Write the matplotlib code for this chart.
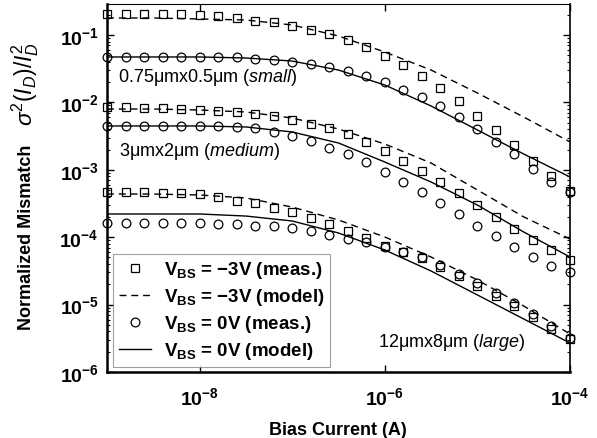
import math
import matplotlib
matplotlib.use("Agg")
import matplotlib.pyplot as plt
from matplotlib.ticker import FixedLocator, FuncFormatter, NullLocator, LogLocator
from matplotlib.lines import Line2D

plt.rcParams['font.family'] = ['Liberation Sans', 'DejaVu Sans']
plt.rcParams['mathtext.fontset'] = 'custom'
plt.rcParams['mathtext.rm'] = 'Liberation Sans'
plt.rcParams['mathtext.it'] = 'Liberation Sans:italic'
plt.rcParams['mathtext.bf'] = 'Liberation Sans:bold'

# ---------------- data ----------------
meas_current = [1e-9, 1.585e-9, 2.512e-9, 3.981e-9, 6.310e-9,
                1e-8, 1.585e-8, 2.512e-8, 3.981e-8, 6.310e-8,
                1e-7, 1.585e-7, 2.512e-7, 3.981e-7, 6.310e-7,
                1e-6, 1.585e-6, 2.512e-6, 3.981e-6, 6.310e-6,
                1e-5, 1.585e-5, 2.512e-5, 3.981e-5, 6.310e-5, 1e-4]

small_m3_meas = [0.205, 0.205, 0.205, 0.205, 0.205, 0.198, 0.191, 0.179, 0.161, 0.156,
                 0.136, 0.119, 0.104, 0.0843, 0.0664, 0.0488, 0.0359, 0.0246, 0.0164, 0.0105,
                 0.00628, 0.0039, 0.00233, 0.00135, 0.00081, 0.000485]
small_0_meas = [0.0472, 0.0472, 0.0472, 0.0472, 0.0472, 0.0472, 0.0472, 0.0472, 0.044, 0.0426,
                0.0398, 0.0371, 0.0335, 0.0292, 0.0246, 0.0201, 0.0153, 0.012, 0.00884, 0.00607,
                0.00403, 0.00259, 0.00172, 0.00103, 0.00066, 0.00047]
medium_m3_meas = [0.00855, 0.00855, 0.00826, 0.00826, 0.00798, 0.00771, 0.00746, 0.00721, 0.00673, 0.00628,
                  0.00548, 0.00478, 0.00417, 0.0034, 0.00259, 0.0019, 0.00135, 0.00096, 0.00066, 0.000453,
                  0.0003, 0.0002, 0.000132, 0.0000909, 0.0000646, 0.0000459]
medium_0_meas = [0.00447, 0.00447, 0.00447, 0.00447, 0.00447, 0.00447, 0.00447, 0.00432, 0.00417, 0.00364,
                 0.00317, 0.00268, 0.00211, 0.00172, 0.00131, 0.00093, 0.00066, 0.00047, 0.000322, 0.000221,
                 0.000147, 0.000104, 0.0000716, 0.0000508, 0.0000374, 0.0000305]
large_m3_meas = [0.000469, 0.000469, 0.000469, 0.000453, 0.000453, 0.000437, 0.000395, 0.000344, 0.000322, 0.000271,
                 0.000237, 0.000193, 0.000157, 0.000124, 0.0000973, 0.000074, 0.0000603, 0.0000491, 0.0000361, 0.0000266,
                 0.0000189, 0.0000134, 0.00000953, 0.00000655, 0.00000435, 0.00000309]
large_0_meas = [0.000162, 0.000162, 0.000162, 0.000162, 0.000162, 0.000162, 0.000157, 0.000157, 0.000147, 0.000147,
                0.000137, 0.000124, 0.000108, 0.000094, 0.0000849, 0.0000716, 0.0000603, 0.0000508, 0.0000387, 0.0000284,
                0.0000209, 0.0000149, 0.0000106, 0.00000725, 0.00000481, 0.0000032]

model_current = [1e-9, 3.162e-9, 1e-8, 3.162e-8, 1e-7, 3.162e-7, 1e-6, 3.162e-6, 1e-5, 3.162e-5, 1e-4]
small_m3_model = [0.1788, 0.1788, 0.1728, 0.167, 0.1408, 0.0966, 0.0559, 0.0302, 0.01379, 0.00607, 0.00259]
small_0_model = [0.0472, 0.0472, 0.0472, 0.0456, 0.0411, 0.0302, 0.01812, 0.00884, 0.0039, 0.001715, 0.000782]
medium_m3_model = [0.00798, 0.00798, 0.00771, 0.00721, 0.00587, 0.00403, 0.002414, 0.00126, 0.000502, 0.0002, 0.000094]
medium_0_model = [0.00447, 0.00447, 0.00447, 0.00432, 0.00364, 0.0025, 0.001305, 0.000659, 0.0003, 0.0001195, 0.0000508]
large_m3_model = [0.000437, 0.000437, 0.000423, 0.000382, 0.00028, 0.00018, 0.0001007, 0.0000508, 0.0000232, 0.00000953, 0.00000366]
large_0_model = [0.000221, 0.000221, 0.000221, 0.000206, 0.000174, 0.0001154, 0.0000646, 0.0000315, 0.0000139, 0.00000612, 0.00000269]

x_ticks = [1e-8, 1e-6, 1e-4]
y_ticks = [1e-6, 1e-5, 1e-4, 1e-3, 1e-2, 1e-1]

size_labels = [r"0.75μmx0.5μm ($\it{small}$)", r"3μmx2μm ($\it{medium}$)", r"12μmx8μm ($\it{large}$)"]
legend_labels = [r"V$_{\mathbf{BS}}$ = −3V (meas.)", r"V$_{\mathbf{BS}}$ = −3V (model)",
                 r"V$_{\mathbf{BS}}$ = 0V (meas.)", r"V$_{\mathbf{BS}}$ = 0V (model)"]
ylabel_text = "Normalized Mismatch"
ylabel_math = r"$\sigma^2(I_D)/I_D^2$"
xlabel_text = "Bias Current (A)"

# ---------------- figure ----------------
W, H = 597, 439
fig = plt.figure(figsize=(W / 100, H / 100), dpi=100)
ax = fig.add_axes([107 / W, 1 - 373 / H, 463 / W, 368 / H])
ax.set_xscale('log')
ax.set_yscale('log')

dash = (0, (5, 3.5))
lw = 1.0
for ym in [small_m3_model, medium_m3_model, large_m3_model]:
    ax.plot(model_current, ym, color='black', lw=lw, linestyle=dash)
for ym in [small_0_model, medium_0_model, large_0_model]:
    ax.plot(model_current, ym, color='black', lw=lw, linestyle='-')

mstyle = dict(linestyle='none', markerfacecolor='none', markeredgecolor='black', markeredgewidth=0.9)
sq_size, ci_size = 5.6, 6.3
for ym in [small_m3_meas, medium_m3_meas, large_m3_meas]:
    ax.plot(meas_current, ym, marker='s', markersize=sq_size, clip_on=False, zorder=3, **mstyle)
for ym in [small_0_meas, medium_0_meas, large_0_meas]:
    ax.plot(meas_current, ym, marker='o', markersize=ci_size, clip_on=False, zorder=3, **mstyle)

ax.set_xlim(1e-9, 1e-4)
ax.set_ylim(1e-6, 10 ** -0.54)


def fmt(v, pos):
    e = int(round(math.log10(v)))
    return r"$\mathbf{10^{%d}}$" % e


ax.xaxis.set_major_locator(FixedLocator(x_ticks))
ax.xaxis.set_minor_locator(NullLocator())
ax.xaxis.set_major_formatter(FuncFormatter(fmt))
ax.yaxis.set_major_locator(FixedLocator(y_ticks))
ax.yaxis.set_minor_locator(LogLocator(base=10, subs=[2, 3, 4, 5, 6, 7, 8, 9], numticks=20))
ax.yaxis.set_major_formatter(FuncFormatter(fmt))
ax.tick_params(axis='both', which='both', direction='in', top=True, right=True)
ax.tick_params(axis='both', which='major', length=5, width=1.0, labelsize=14)
ax.tick_params(axis='y', which='minor', length=2.5, width=0.8)
ax.tick_params(axis='x', which='major', pad=10)
ax.tick_params(axis='y', which='major', pad=6)

ax.spines['left'].set_linewidth(1.8)
ax.spines['bottom'].set_linewidth(1.8)
ax.spines['right'].set_linewidth(1.2)
ax.spines['top'].set_linewidth(0.8)

fig.text(338 / W, 1 - 431 / H, xlabel_text, fontsize=13, fontweight='bold', ha='center', va='center')
fig.text(27 / W, 1 - 237 / H, ylabel_text, fontsize=13, fontweight='bold', rotation=90,
         ha='center', va='center')
fig.text(25 / W, 1 - 84 / H, ylabel_math, fontsize=16.5, rotation=90, ha='center', va='center')

ax.text(0.024, 0.804, size_labels[0], transform=ax.transAxes, fontsize=13, va='center', ha='left')
ax.text(0.026, 0.601, size_labels[1], transform=ax.transAxes, fontsize=13, va='center', ha='left')
ax.text(0.585, 0.084, size_labels[2], transform=ax.transAxes, fontsize=13, va='center', ha='left')

handles = [Line2D([], [], marker='s', markersize=sq_size, **mstyle),
           Line2D([], [], color='black', lw=lw, linestyle=dash),
           Line2D([], [], marker='o', markersize=ci_size, **mstyle),
           Line2D([], [], color='black', lw=lw, linestyle='-')]
leg = ax.legend(handles, legend_labels, loc='lower left', bbox_to_anchor=(0.013, 0.0136),
                borderaxespad=0, fancybox=False, frameon=True,
                prop={'weight': 'bold', 'size': 13.5}, handlelength=1.7, handletextpad=0.7,
                labelspacing=0.32, borderpad=0.3)
leg.get_frame().set_edgecolor('#888888')
leg.get_frame().set_linewidth(0.8)

fig.savefig("out.png", dpi=100)
